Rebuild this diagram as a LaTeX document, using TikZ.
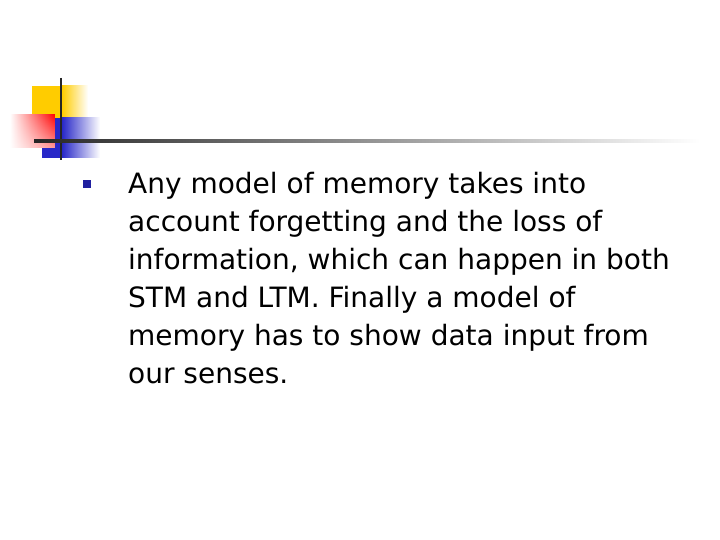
\documentclass[tikz,border=0pt]{standalone}
\usepackage{fontspec}
\setmainfont{DejaVu Sans}
\usetikzlibrary{fadings}
\definecolor{gold}{RGB}{255,204,0}
\definecolor{bblue}{RGB}{40,40,200}
\tikzfading[name=fadeR, left color=transparent!100, right color=transparent!0]
\tikzfading[name=fadeD, top color=transparent!100, bottom color=transparent!0]
\begin{document}
\begin{tikzpicture}[x=1bp,y=-1bp]
\useasboundingbox (0,0) rectangle (720,540);
\fill[white] (0,0) rectangle (720,540);
\fill[gold] (32,86) rectangle (62,118);
\fill[left color=gold, right color=white] (62,86) rectangle (88,118);
\fill[bblue] (42,118) rectangle (62,158);
\fill[left color=bblue, right color=white] (62,118) rectangle (100,158);
\fill[white] (10,114) rectangle (55,148);
\fill[red, path fading=fadeR] (10,114) rectangle (55,148);
\fill[white, path fading=fadeD, opacity=0.6] (10,114) rectangle (55,148);
\draw[line width=2.5bp, black!85] (61,78) -- (61,160);
\shade[left color=black!85, right color=white] (34,140) rectangle (700,142.5);
\node[name=b, fill=bblue!80!black, minimum size=8bp, inner sep=0pt] at (87,184) {};
\node[name=t, anchor=north west, align=left, font=\fontsize{28bp}{38bp}\selectfont, inner sep=0pt] at (128,172)
{Any model of memory takes into\\account forgetting and the loss of\\information, which can happen in both\\STM and LTM. Finally a model of\\memory has to show data input from\\our senses.};
\end{tikzpicture}
\end{document}
